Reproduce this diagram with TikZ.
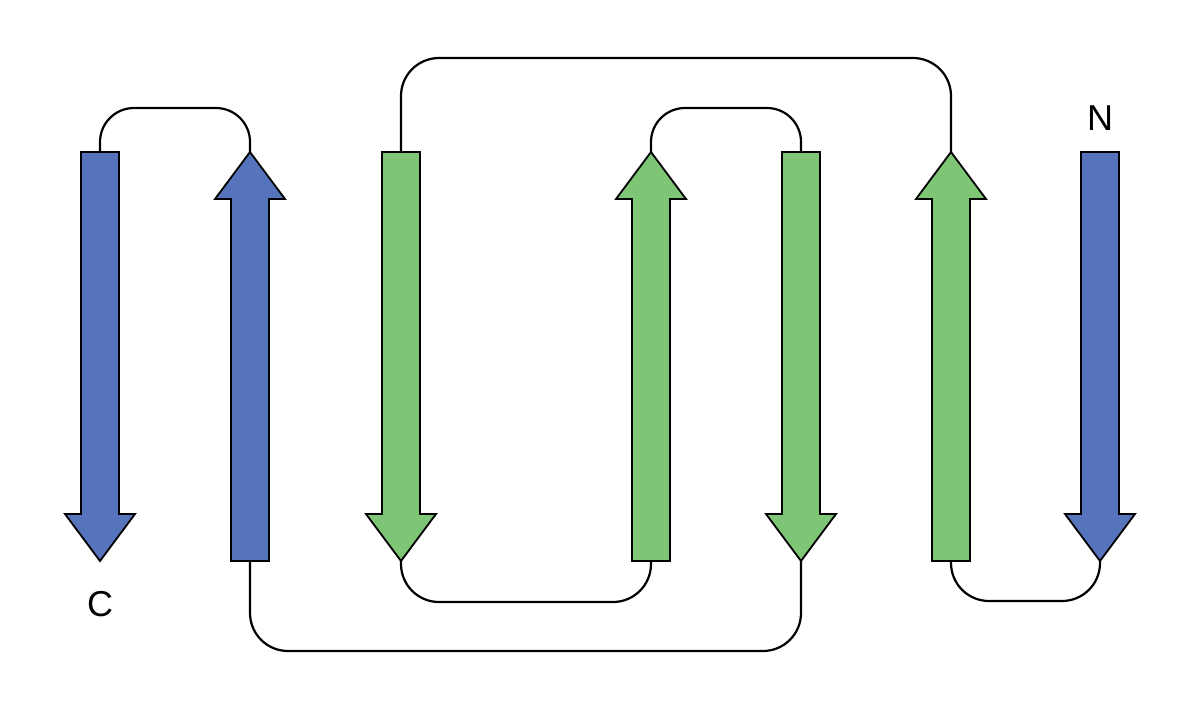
\documentclass[tikz,border=0pt]{standalone}
\usepackage{fontspec}
\setmainfont{Liberation Sans}
\definecolor{strandblue}{RGB}{86,116,187}
\definecolor{strandgreen}{RGB}{126,197,118}
\tikzset{
  strandbody/.style={draw=black, line width=1.8pt, line join=miter},
  linker/.style={draw=black, line width=2.2pt, rounded corners=#1},
  linker/.default=38pt,
  termlabel/.style={font=\fontsize{36}{36}\selectfont, inner sep=0pt}
}
% \strandDown{name}{cx}{colour}
\newcommand\strandDown[3]{%
  \fill[#3, strandbody] (#2-19,152) -- (#2+19,152) -- (#2+19,514) -- (#2+35,514)
     -- (#2,561) -- (#2-35,514) -- (#2-19,514) -- cycle;
  \coordinate (#1top) at (#2,152);
  \coordinate (#1bot) at (#2,561);
}
\newcommand\strandUp[3]{%
  \fill[#3, strandbody] (#2-19,561) -- (#2+19,561) -- (#2+19,199) -- (#2+35,199)
     -- (#2,152) -- (#2-35,199) -- (#2-19,199) -- cycle;
  \coordinate (#1top) at (#2,152);
  \coordinate (#1bot) at (#2,561);
}
\begin{document}
\begin{tikzpicture}[x=1pt,y=-1pt]
\useasboundingbox (0,0) rectangle (1201,702);
\strandDown{a}{100}{strandblue}
\strandUp{b}{250}{strandblue}
\strandDown{c}{401}{strandgreen}
\strandUp{d}{651}{strandgreen}
\strandDown{e}{801}{strandgreen}
\strandUp{f}{951}{strandgreen}
\strandDown{g}{1100}{strandblue}
% connectors
\draw[linker=34pt] (atop) -- ([yshift=44pt]atop) -| (btop);
\draw[linker] (bbot) -- ([yshift=-90pt]bbot) -| (ebot);
\draw[linker] (cbot) -- ([yshift=-41pt]cbot) -| (dbot);
\draw[linker] (ctop) -- ([yshift=94pt]ctop) -| (ftop);
\draw[linker=34pt] (dtop) -- ([yshift=44pt]dtop) -| (etop);
\draw[linker] (fbot) -- ([yshift=-40pt]fbot) -| (gbot);
% labels
\node[termlabel] (cterm) at (100,604) {C};
\node[termlabel] (nterm) at (1100,118) {N};
\end{tikzpicture}
\end{document}
